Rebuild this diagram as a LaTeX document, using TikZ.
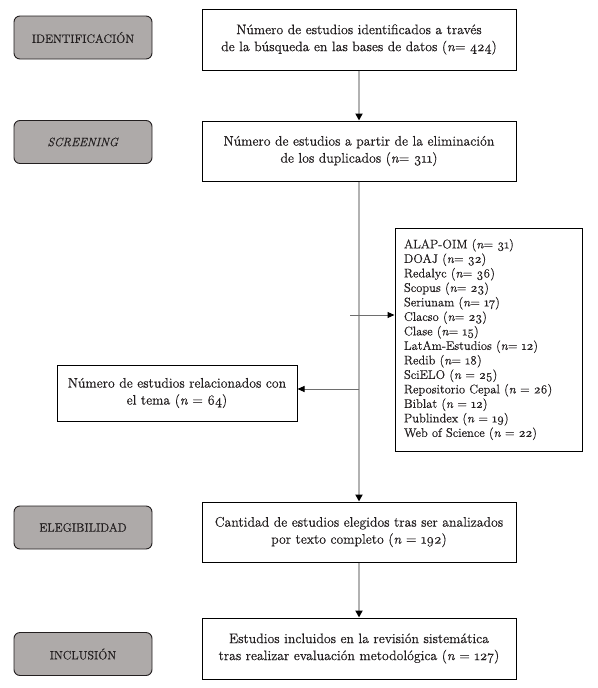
\documentclass[tikz,border=0pt]{standalone}
\usepackage{fontspec}
\setmainfont{Latin Modern Roman}[Numbers=OldStyle, FakeBold=0.5]
\usetikzlibrary{arrows.meta}
\definecolor{phasegrey}{RGB}{174,170,169}
\definecolor{flowgrey}{RGB}{178,178,178}
\definecolor{branchgrey}{RGB}{110,110,110}
\definecolor{ink}{RGB}{35,31,32}
\begin{document}
\begin{tikzpicture}[x=1pt,y=-1pt,
  phase/.style={draw=ink, fill=phasegrey, rounded corners=6pt, line width=0.9pt,
    minimum width=138pt, minimum height=43pt, inner sep=0pt, text=ink,
    font=\fontsize{12}{14}\selectfont},
  stepbox/.style={draw=black, line width=1pt, minimum width=314pt, inner sep=0pt,
    align=center, text=ink, font=\fontsize{13.8}{17}\selectfont},
  flow/.style={draw=flowgrey, line width=1.8pt,
    -{Triangle[length=7pt,width=7pt,color=black]}},
  branch/.style={draw=branchgrey, line width=1pt,
    -{Triangle[length=7pt,width=6pt,color=black]}}
]
\useasboundingbox (0,0) rectangle (597,688);

% phase labels
\node[phase] (id)  at (83,37.5) {IDENTIFICACIÓN};
\node[phase] (scr) at (83,142) {\textit{SCREENING}};
\node[phase] (ele) at (83,527.5) {ELEGIBILIDAD};
\node[phase] (inc) at (83,654) {INCLUSIÓN};

% main boxes
\node[stepbox, minimum height=61pt] (b1) at (359,39.5)
  {Número de estudios identificados a través\\de la búsqueda en las bases de datos (\textit{n}= 424)};
\node[stepbox, minimum height=60pt] (b2) at (359,151)
  {Número de estudios a partir de la eliminación\\de los duplicados (\textit{n}= 311)};
\node[stepbox, minimum height=60pt] (b3) at (359,532)
  {Cantidad de estudios elegidos tras ser analizados\\por texto completo (\textit{n} = 192)};
\node[stepbox, minimum height=61pt] (b4) at (359,648.5)
  {Estudios incluidos en la revisión sistemática\\tras realizar evaluación metodológica (\textit{n} = 127)};

% database list
\node[draw=black, line width=1pt, minimum width=187pt, minimum height=223pt,
  text width=169pt, inner xsep=9pt, inner ysep=0pt, align=left, text=ink,
  font=\fontsize{12.5}{14.5}\selectfont] (db) at (488.5,339.5)
  {ALAP-OIM (\textit{n}= 31)\\
   DOAJ (\textit{n}= 32)\\
   Redalyc (\textit{n}= 36)\\
   Scopus (\textit{n}= 23)\\
   Seriunam (\textit{n}= 17)\\
   Clacso (\textit{n}= 23)\\
   Clase (\textit{n}= 15)\\
   LatAm-Estudios (\textit{n}= 12)\\
   Redib (\textit{n}= 18)\\
   SciELO (\textit{n} = 25)\\
   Repositorio Cepal (\textit{n} = 26)\\
   Biblat (\textit{n} = 12)\\
   Publindex (\textit{n} = 19)\\
   Web of Science (\textit{n} = 22)};

% related studies
\node[draw=black, line width=1pt, minimum width=240pt, minimum height=56pt,
  inner sep=0pt, align=center, text=ink, font=\fontsize{13.8}{17}\selectfont] (tema) at (177,393)
  {Número de estudios relacionados con\\el tema (\textit{n} = 64)};

% connectors
\draw[flow] (b1) -- (b2);
\draw[flow] (b2) -- (b3);
\draw[flow] (b3) -- (b4);
\coordinate (jdb) at (350,315);
\coordinate (jt) at (359,389);
\draw[branch] (jdb) -- (jdb -| db.west);
\draw[branch] (jt) -- (jt -| tema.east);
\end{tikzpicture}
\end{document}
